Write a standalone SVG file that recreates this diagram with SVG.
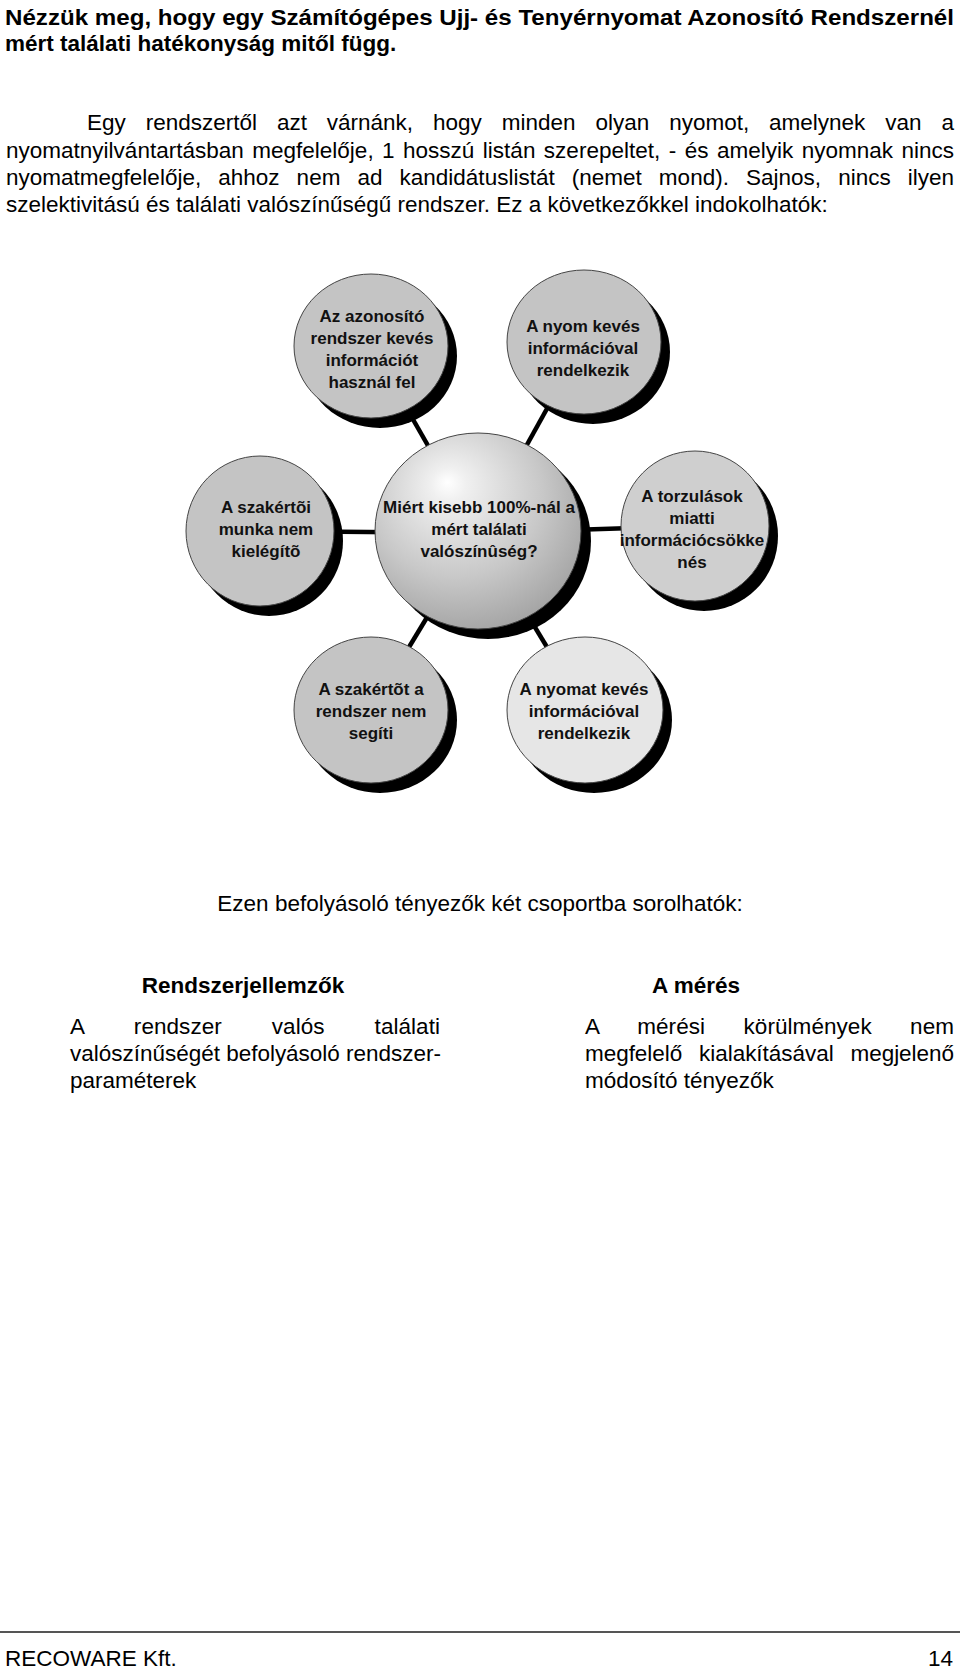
<svg xmlns="http://www.w3.org/2000/svg" width="960" height="1670" viewBox="0 0 960 1670">
<defs>
<style>
.shadow{fill:#000}
.node{stroke:#444;stroke-width:1}
.gray{fill:#c4c4c4}
.light{fill:#cfcfcf}
.pale{fill:#e6e6e6}
.lbl{font-family:"Liberation Sans",Arial,sans-serif;font-weight:bold;font-size:17px;text-anchor:middle;fill:#111}
.body{font-family:"Liberation Sans",Arial,sans-serif;font-size:22.5px;fill:#000}
.bold{font-weight:bold}
.conn{stroke:#000;stroke-width:4.5;fill:none}
</style>
<radialGradient id="sphere" cx="0.42" cy="0.36" r="0.7" fx="0.35" fy="0.25">
<stop offset="0" stop-color="#ffffff"/>
<stop offset="0.12" stop-color="#f0f0f0"/>
<stop offset="0.6" stop-color="#c8c8c8"/>
<stop offset="1" stop-color="#a0a0a0"/>
</radialGradient>
</defs>
<rect width="960" height="1670" fill="#fff"/>

<g id="title">
<text class="body bold" font-size="24" x="5" y="25" textLength="949" lengthAdjust="spacingAndGlyphs">Nézzük meg, hogy egy Számítógépes Ujj- és Tenyérnyomat Azonosító Rendszernél</text>
<text class="body bold" font-size="24" x="5" y="51">mért találati hatékonyság mitől függ.</text>
</g>

<g id="intro">
<text class="body" x="87" y="130" word-spacing="13.7" textLength="867" lengthAdjust="spacing">Egy rendszertől azt várnánk, hogy minden olyan nyomot, amelynek van a</text>
<text class="body" x="6" y="157.5" word-spacing="2.2" textLength="948" lengthAdjust="spacing">nyomatnyilvántartásban megfelelője, 1 hosszú listán szerepeltet, - és amelyik nyomnak nincs</text>
<text class="body" x="6" y="184.5" word-spacing="10.8" textLength="948" lengthAdjust="spacing">nyomatmegfelelője, ahhoz nem ad kandidátuslistát (nemet mond). Sajnos, nincs ilyen</text>
<text class="body" x="6" y="212">szelektivitású és találati valószínűségű rendszer. Ez a következőkkel indokolhatók:</text>
</g>

<g id="connectors">
<line class="conn" x1="478" y1="533" x2="371" y2="346"/>
<line class="conn" x1="478" y1="533" x2="584" y2="342"/>
<line class="conn" x1="478" y1="533" x2="258" y2="531"/>
<line class="conn" x1="478" y1="533" x2="695" y2="526"/>
<line class="conn" x1="478" y1="533" x2="371" y2="710"/>
<line class="conn" x1="478" y1="533" x2="585" y2="710"/>
</g>

<g id="node-tl">
<ellipse class="shadow" cx="380" cy="356" rx="77" ry="72"/>
<ellipse class="node gray" cx="371" cy="346" rx="77" ry="72"/>
<text class="lbl" x="372" y="322">Az azonosító</text>
<text class="lbl" x="372" y="344">rendszer kevés</text>
<text class="lbl" x="372" y="366">információt</text>
<text class="lbl" x="372" y="388">használ fel</text>
</g>

<g id="node-tr">
<ellipse class="shadow" cx="593" cy="352" rx="77" ry="72"/>
<ellipse class="node gray" cx="584" cy="342" rx="77" ry="72"/>
<text class="lbl" x="583" y="332">A nyom kevés</text>
<text class="lbl" x="583" y="354">információval</text>
<text class="lbl" x="583" y="376">rendelkezik</text>
</g>

<g id="node-l">
<ellipse class="shadow" cx="269" cy="541" rx="74" ry="75"/>
<ellipse class="node gray" cx="260" cy="531" rx="74" ry="75"/>
<text class="lbl" x="266" y="513">A szakértõi</text>
<text class="lbl" x="266" y="535">munka nem</text>
<text class="lbl" x="266" y="557">kielégítõ</text>
</g>

<g id="node-center">
<ellipse class="shadow" cx="488" cy="541" rx="103" ry="98"/>
<ellipse class="node" fill="url(#sphere)" cx="478" cy="531" rx="103" ry="98"/>
<text class="lbl" x="479" y="513">Miért kisebb 100%-nál a</text>
<text class="lbl" x="479" y="535">mért találati</text>
<text class="lbl" x="479" y="557">valószínûség?</text>
</g>

<g id="node-r">
<ellipse class="shadow" cx="704" cy="536" rx="74" ry="75"/>
<ellipse class="node light" cx="695" cy="526" rx="74" ry="75"/>
<text class="lbl" x="692" y="502">A torzulások</text>
<text class="lbl" x="692" y="524">miatti</text>
<text class="lbl" x="692" y="546">információcsökke</text>
<text class="lbl" x="692" y="568">nés</text>
</g>

<g id="node-bl">
<ellipse class="shadow" cx="380" cy="720" rx="77" ry="73"/>
<ellipse class="node gray" cx="371" cy="710" rx="77" ry="73"/>
<text class="lbl" x="371" y="695">A szakértõt a</text>
<text class="lbl" x="371" y="717">rendszer nem</text>
<text class="lbl" x="371" y="739">segíti</text>
</g>

<g id="node-br">
<ellipse class="shadow" cx="594" cy="720" rx="78" ry="73"/>
<ellipse class="node pale" cx="585" cy="710" rx="78" ry="73"/>
<text class="lbl" x="584" y="695">A nyomat kevés</text>
<text class="lbl" x="584" y="717">információval</text>
<text class="lbl" x="584" y="739">rendelkezik</text>
</g>

<g id="groups">
<text class="body" x="480" y="911" text-anchor="middle">Ezen befolyásoló tényezők két csoportba sorolhatók:</text>
<text class="body bold" x="243" y="993" text-anchor="middle">Rendszerjellemzők</text>
<text class="body bold" x="696" y="993" text-anchor="middle">A mérés</text>
<text class="body" x="70" y="1034" word-spacing="43.7" textLength="370" lengthAdjust="spacing">A rendszer valós találati</text>
<text class="body" x="70" y="1061" textLength="371" lengthAdjust="spacing">valószínűségét befolyásoló rendszer-</text>
<text class="body" x="70" y="1088">paraméterek</text>
<text class="body" x="585" y="1034" word-spacing="32.1" textLength="369" lengthAdjust="spacing">A mérési körülmények nem</text>
<text class="body" x="585" y="1061" word-spacing="10.7" textLength="369" lengthAdjust="spacing">megfelelő kialakításával megjelenő</text>
<text class="body" x="585" y="1088">módosító tényezők</text>
</g>

<g id="footer">
<line x1="0" y1="1632" x2="960" y2="1632" stroke="#555" stroke-width="2"/>
<text class="body" font-size="21" x="5" y="1666">RECOWARE Kft.</text>
<text class="body" font-size="21" x="953" y="1666" text-anchor="end">14</text>
</g>
</svg>
